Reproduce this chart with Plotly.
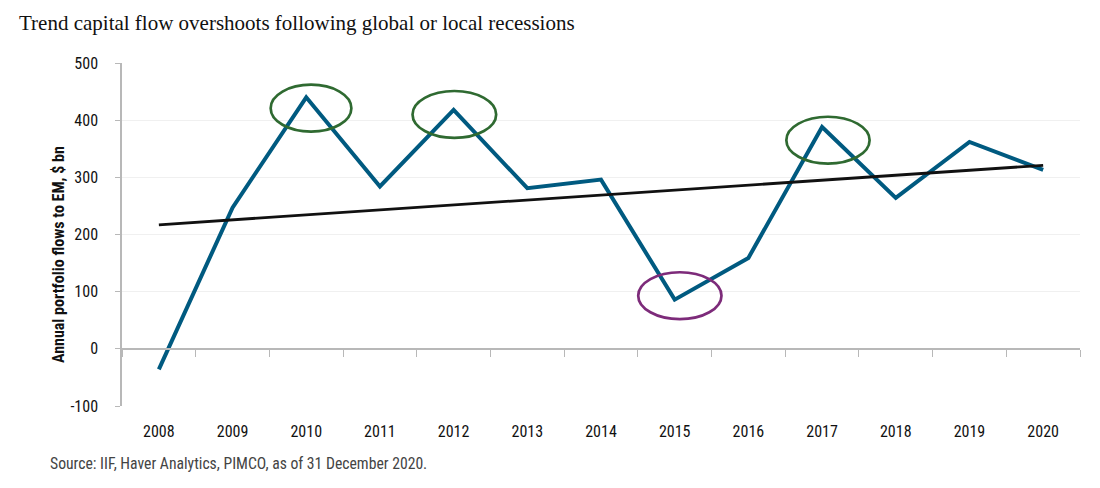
import plotly.graph_objects as go

years = ["2008", "2009", "2010", "2011", "2012", "2013", "2014",
         "2015", "2016", "2017", "2018", "2019", "2020"]
flows = [-36, 247, 440, 284, 418, 281, 296, 86, 159, 388, 264, 362, 313]
trend_years = ["2008", "2020"]
trend_values = [217, 321]

# highlighted overshoots: (year, colour, x offset in categories, y offset, width, height)
highlights = [
    ("2010", "#2f6a31", 0.065, -19, 1.095, 82),
    ("2012", "#2f6a31", 0.01, -8, 1.135, 82),
    ("2017", "#2f6a31", 0.08, -23, 1.13, 82),
    ("2015", "#7d2b7a", 0.07, 7, 1.13, 82),
]

y_ticks = [-100, 0, 100, 200, 300, 400, 500]
y_ticktext = ["-100", "0", "100", "200", "300", "400", "500"]

NARROW = "Liberation Sans Narrow, Roboto Condensed, DejaVu Sans Condensed, Roboto, sans-serif"

# page body has an 8px margin, so the figure is drawn 8px in from the window
W, H = 1092, 480
L, T, R, B = 114, 55, 20, 82
plot_w = W - L - R
plot_h = H - T - B

fig = go.Figure()
fig.add_trace(go.Scatter(x=years, y=flows, mode="lines",
                         line=dict(color="#005a80", width=4), showlegend=False,
                         hoverinfo="skip"))
fig.add_trace(go.Scatter(x=trend_years, y=trend_values, mode="lines",
                         line=dict(color="#111111", width=2.8), showlegend=False,
                         hoverinfo="skip"))

for yr, col, dx, dy, w, h in highlights:
    i = years.index(yr)
    cx = i + dx
    cy = flows[i] + dy
    fig.add_shape(type="circle", xref="x", yref="y",
                  x0=cx - w / 2, x1=cx + w / 2, y0=cy - h / 2, y1=cy + h / 2,
                  line=dict(color=col, width=2.7), fillcolor="rgba(0,0,0,0)")

fig.update_layout(
    width=W, height=H,
    margin=dict(l=L, r=R, t=T, b=B, autoexpand=False),
    paper_bgcolor="white", plot_bgcolor="white",
    showlegend=False,
    xaxis=dict(type="category", categoryorder="array", categoryarray=years,
               range=[-0.5, len(years) - 0.5], showline=False, showgrid=False,
               ticks="", zeroline=False, ticklabelstandoff=14,
               tickfont=dict(family=NARROW, size=16, color="#111111")),
    xaxis2=dict(overlaying="x", anchor="free", position=1 / 6, type="linear",
                range=[-0.5, len(years) - 0.5],
                tickvals=[k - 0.5 for k in range(len(years) + 1)],
                showticklabels=False, ticks="outside", ticklen=7,
                tickcolor="#b8b8b8", tickwidth=1.2,
                showline=True, linecolor="#b8b8b8", linewidth=1.5,
                showgrid=False, zeroline=False),
    yaxis=dict(range=[-100, 500], tickvals=y_ticks, ticktext=y_ticktext,
               showgrid=True, gridcolor="#f0f0f0", gridwidth=1, zeroline=False,
               showline=True, linecolor="#b8b8b8", linewidth=1.5,
               ticks="outside", ticklen=5, tickcolor="#b8b8b8",
               ticklabelstandoff=14,
               tickfont=dict(family=NARROW, size=16, color="#111111")),
    title=dict(text="Trend capital flow overshoots following global or local recessions",
               x=11 / W, xanchor="left", y=1 - 15 / H, yanchor="middle",
               font=dict(family="Liberation Serif, DejaVu Serif, serif", size=21,
                         color="#111111")),
)

fig.add_trace(go.Scatter(x=[None], y=[None], xaxis="x2", yaxis="y",
                         showlegend=False, hoverinfo="skip"))

fig.add_annotation(text="<b>Annual portfolio flows to EM, $ bn</b>",
                   xref="paper", yref="paper", x=(58 - 122) / plot_w,
                   y=(406 - 255) / plot_h,
                   xanchor="center", yanchor="middle", textangle=-90,
                   showarrow=False,
                   font=dict(family=NARROW, size=16, color="#111111"))
fig.add_annotation(text="Source: IIF, Haver Analytics, PIMCO, as of 31 December 2020.",
                   xref="paper", yref="paper", x=(48 - 122) / plot_w,
                   y=-(463 - 406) / plot_h, xanchor="left", yanchor="middle",
                   showarrow=False,
                   font=dict(family=NARROW, size=15.7, color="#444444"))

fig.write_html("out.html")
